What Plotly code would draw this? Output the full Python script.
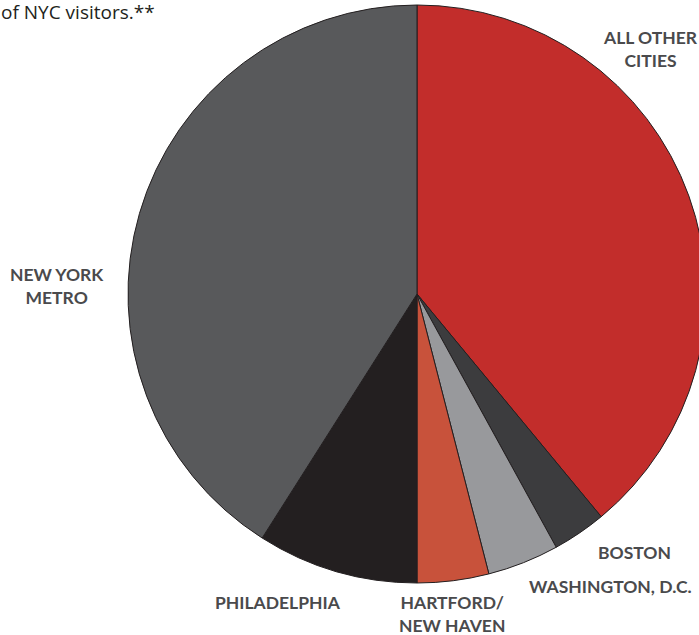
import plotly.graph_objects as go

W, H = 712, 635  # figure is a bit wider than the window; the page hides the overflow

categories = ["ALL OTHER<br>CITIES", "BOSTON", "WASHINGTON, D.C.", "HARTFORD/<br>NEW HAVEN", "PHILADELPHIA", "NEW YORK<br>METRO"]
values = [39, 3, 4, 4, 9, 41]
colors = ["#C22D2B", "#3C3C3E", "#98999C", "#C8523B", "#231F20", "#58595B"]
title_text = "of NYC visitors.**"

# label positions in pixels (center x, center y)
label_pos = [(650, 49), (634, 552), (610, 586), (452, 614), (278, 602), (57, 286)]

cx, cy, r = 417, 294, 289

fig = go.Figure(go.Pie(
    labels=categories,
    values=values,
    marker=dict(colors=colors, line=dict(color="#231F20", width=1)),
    sort=False,
    direction="clockwise",
    rotation=0,
    textinfo="none",
    hoverinfo="label+percent",
    showlegend=False,
    domain=dict(x=[(cx - r) / W, (cx + r) / W], y=[(H - cy - r) / H, (H - cy + r) / H]),
))

annotations = []
for lab, (px, py) in zip(categories, label_pos):
    annotations.append(dict(
        text=f"<b>{lab}</b>", x=px / W, y=1 - py / H, xref="paper", yref="paper",
        xanchor="center", yanchor="middle", showarrow=False, align="center",
        font=dict(family="Lato", size=17.5, color="#4A4A4C"),
    ))
annotations.append(dict(
    text=title_text, x=157 / W, y=1 - 12 / H, xref="paper", yref="paper",
    xanchor="right", yanchor="middle", showarrow=False,
    font=dict(family="Open Sans", size=19, color="#231F20"),
))

fig.update_layout(
    width=W, height=H, margin=dict(l=0, r=0, t=0, b=0),
    paper_bgcolor="white", plot_bgcolor="white",
    annotations=annotations,
)

fig.write_html(
    "out.html",
    config={"displayModeBar": False},
    post_script="document.body.style.margin='0';document.body.style.overflow='hidden';",
)
